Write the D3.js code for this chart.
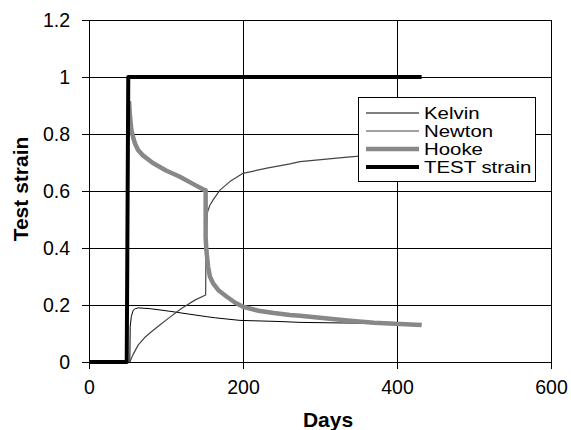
<!DOCTYPE html>
<html>
<head>
<meta charset="utf-8">
<script src="https://cdn.jsdelivr.net/npm/d3@7/dist/d3.min.js"></script>
<style>
  html, body { margin: 0; padding: 0; background: #fff; }
  svg { display: block; font-family: "Liberation Sans", Arial, sans-serif; }
</style>
</head>
<body>
<svg id="chart" width="571" height="430"></svg>
<script>
// Strain components over time (days, strain)
const testStrain = [[0, 0], [49, 0], [50, 0.5], [51, 1], [432, 1]];

const hooke = [
  [52, 0.915], [53, 0.87], [55, 0.815], [57.6, 0.785], [60, 0.765], [63.7, 0.744],
  [70, 0.725], [83, 0.698], [100, 0.672], [118, 0.65], [135, 0.625], [148.5, 0.605],
  [151.5, 0.603], [151.5, 0.435], [152.5, 0.39], [154.7, 0.334], [157, 0.30],
  [161, 0.277], [168, 0.252], [179, 0.229], [190, 0.208], [200, 0.194],
  [220, 0.18], [240, 0.172], [261, 0.165], [274, 0.162], [300, 0.155],
  [339, 0.145], [370, 0.138], [404, 0.133], [432, 0.13]
];

const kelvin = [
  [53, 0.0], [53.5, 0.124], [55, 0.16], [57.5, 0.182], [60, 0.187], [64, 0.19],
  [80, 0.187], [105, 0.178], [130, 0.168], [153, 0.159], [164, 0.155],
  [196, 0.146], [248, 0.142], [274, 0.139], [330, 0.137], [400, 0.135], [432, 0.134]
];

const newton = [
  [53, 0], [57, 0.025], [64, 0.06], [72, 0.085], [81, 0.106], [92, 0.13],
  [103, 0.153], [120, 0.188], [138, 0.218], [151.5, 0.235],
  [152, 0.44], [154, 0.527], [157, 0.55], [161, 0.568], [170, 0.603],
  [183, 0.633], [200, 0.662], [231, 0.68], [261, 0.695], [274, 0.703],
  [339, 0.72], [380, 0.728], [432, 0.735]
];

const xTicks = [0, 200, 400, 600];
const yTicks = [0, 0.2, 0.4, 0.6, 0.8, 1, 1.2];

const seriesList = [
  { name: "Kelvin", data: kelvin, color: "#000", width: 1 },
  { name: "Newton", data: newton, color: "#444", width: 1.2 },
  { name: "Hooke", data: hooke, color: "#888", width: 4.5 },
  { name: "TEST strain", data: testStrain, color: "#000", width: 4 }
];

const svg = d3.select("#chart");
const margin = { left: 89, right: 20, top: 20, bottom: 68 };
const W = 571, H = 430;

const x = d3.scaleLinear().domain([0, 600]).range([margin.left, W - margin.right]);
const y = d3.scaleLinear().domain([0, 1.2]).range([H - margin.bottom, margin.top]);

// gridlines
svg.append("g")
  .selectAll("line")
  .data(yTicks.filter(v => v > 0 && v < 1.2))
  .join("line")
  .attr("x1", x(0)).attr("x2", x(600))
  .attr("y1", d => y(d)).attr("y2", d => y(d))
  .attr("stroke", "#000").attr("stroke-width", 1).attr("shape-rendering", "crispEdges");

svg.append("g")
  .selectAll("line")
  .data(xTicks.filter(v => v > 0 && v < 600))
  .join("line")
  .attr("y1", y(0)).attr("y2", y(1.2))
  .attr("x1", d => x(d)).attr("x2", d => x(d))
  .attr("stroke", "#000").attr("stroke-width", 1).attr("shape-rendering", "crispEdges");

// frame
svg.append("rect")
  .attr("x", x(0)).attr("y", y(1.2))
  .attr("width", x(600) - x(0)).attr("height", y(0) - y(1.2))
  .attr("fill", "none").attr("stroke", "#000").attr("stroke-width", 1)
  .attr("shape-rendering", "crispEdges");

// axes
const xAxis = svg.append("g")
  .attr("transform", `translate(0,${y(0)})`)
  .call(d3.axisBottom(x).tickValues(xTicks).tickSize(7).tickPadding(11).tickFormat(d3.format("d")));
const yAxis = svg.append("g")
  .attr("transform", `translate(${x(0)},0)`)
  .call(d3.axisLeft(y).tickValues(yTicks).tickSize(7).tickPadding(12).tickFormat(d => String(+d.toFixed(1))));

[xAxis, yAxis].forEach(a => {
  a.select(".domain").remove();
  a.selectAll("line").attr("stroke", "#000").attr("shape-rendering", "crispEdges");
  a.selectAll("text").attr("fill", "#000").style("font-size", "19.5px")
    .style("font-family", '"Liberation Sans", Arial, sans-serif');
});

// series
const line = d3.line().x(d => x(d[0])).y(d => y(d[1]));
svg.append("g")
  .selectAll("path")
  .data(seriesList)
  .join("path")
  .attr("d", d => line(d.data))
  .attr("fill", "none")
  .attr("stroke", d => d.color)
  .attr("stroke-width", d => d.width)
  .attr("stroke-linejoin", "round");

// axis titles
svg.append("text")
  .attr("x", 328).attr("y", 427)
  .attr("text-anchor", "middle")
  .style("font-weight", "bold").style("font-size", "21px")
  .text("Days");

svg.append("text")
  .attr("transform", `translate(28,${189}) rotate(-90)`)
  .attr("text-anchor", "middle")
  .style("font-weight", "bold").style("font-size", "21px")
  .text("Test strain");

// legend (labels widened horizontally to fit the tight row spacing)
const lg = svg.append("g").attr("transform", "translate(358,97)");
lg.append("rect").attr("width", 177).attr("height", 84)
  .attr("fill", "#fff").attr("stroke", "#000").attr("stroke-width", 1)
  .attr("shape-rendering", "crispEdges");
seriesList.forEach((s, i) => {
  const yy = 16 + i * 18;
  lg.append("line").attr("x1", 8).attr("x2", 61).attr("y1", yy).attr("y2", yy)
    .attr("stroke", s.color).attr("stroke-width", s.width);
  lg.append("text")
    .attr("transform", `translate(66,${yy + 6}) scale(1.2,1)`)
    .style("font-size", "17px").text(s.name);
});
</script>
</body>
</html>
